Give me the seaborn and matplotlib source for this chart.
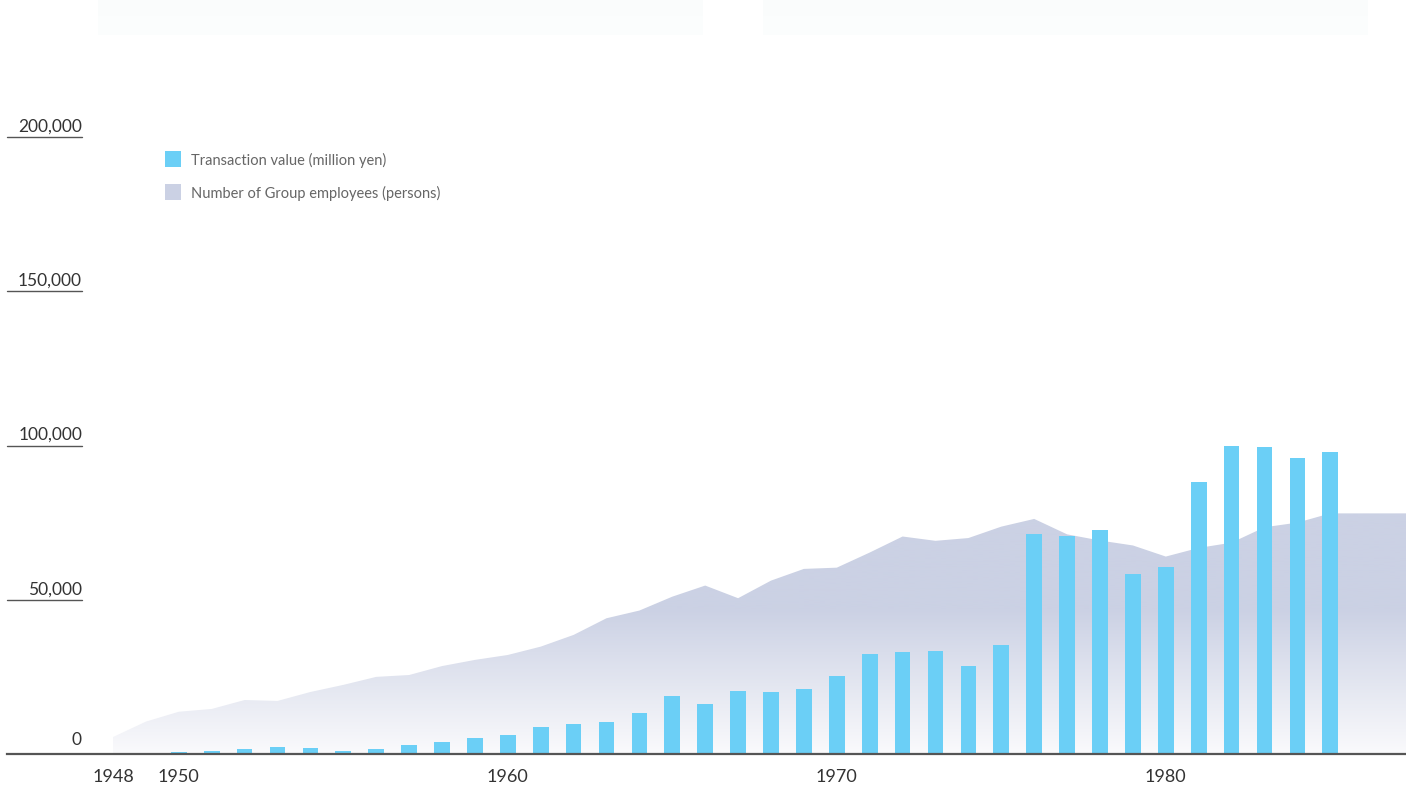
import numpy as np
import matplotlib
matplotlib.use("Agg")
import matplotlib.pyplot as plt
import matplotlib.transforms as mtransforms
from matplotlib.colors import LinearSegmentedColormap
from matplotlib.patches import Rectangle
import seaborn as sns

# data
years = list(range(1948, 1986))
transaction = [200, 200, 500, 1000, 1600, 2300, 2000, 1000, 1600, 2900,
               3900, 5200, 6200, 8800, 9700, 10400, 13300, 18800, 16200, 20400,
               20100, 21100, 25300, 32400, 33100, 33400, 28500, 35300, 71300, 70700,
               72600, 58400, 60600, 88200, 99900, 99600, 96000, 97900]
emp_years = list(range(1948, 1989))
employees = [5500, 10500, 13700, 14600, 17500, 17200, 20100, 22400, 25000, 25600,
             28500, 30500, 32100, 34800, 38600, 44000, 46500, 51000, 54600, 50500,
             56200, 60000, 60400, 65300, 70500, 69100, 70000, 73700, 76200, 71200,
             69200, 67600, 64000, 66800, 68500, 73500, 75000, 78000, 78000, 78000, 78000]
ytick_values = [0, 50000, 100000, 150000, 200000]
xtick_years = [1948, 1950, 1960, 1970, 1980]
legend_labels = ["Transaction value (million yen)", "Number of Group employees (persons)"]

BAR_COLOR = "#6BCFF6"
AREA_COLOR = "#CBD1E4"

sns.set_style("white")
plt.rcParams["font.family"] = ["Lato", "DejaVu Sans"]

W, H = 1406, 787
fig = plt.figure(figsize=(W / 100, H / 100), dpi=100)
ax = fig.add_axes([0, 33 / H, 1, 754 / H])
ax.patch.set_alpha(0)

px_year = 32.9
x0 = 1948 - 113 / px_year
x1 = x0 + W / px_year
val_px = 200000 / 617.0
ytop = 754 * val_px

# employees area with vertical gradient
poly = ax.fill_between(emp_years, employees, 0, color="none", lw=0)
cmap = LinearSegmentedColormap.from_list("fade", ["#FAFAFC", AREA_COLOR])
grad = np.clip(np.linspace(0, 1, 256).reshape(-1, 1) * 80000 / 47000, 0, 1)
im = ax.imshow(grad, extent=[1948, 1989, 0, 80000], origin="lower",
               aspect="auto", cmap=cmap, vmin=0, vmax=1, zorder=1)
im.set_clip_path(poly.get_paths()[0], transform=ax.transData)

# transaction bars
sns.barplot(x=years, y=transaction, native_scale=True, width=0.48,
            color=BAR_COLOR, saturation=1, errorbar=None, ax=ax, zorder=3,
            linewidth=0, edgecolor="none")

ax.set_xlim(x0, x1)
ax.set_ylim(0, ytop)
ax.set_xlabel("")
ax.set_ylabel("")

for s in ["top", "right", "left"]:
    ax.spines[s].set_visible(False)
ax.spines["bottom"].set_bounds(x0 + 7 / px_year, x1)
ax.spines["bottom"].set_color("#555555")
ax.spines["bottom"].set_linewidth(1.6)
ax.spines["bottom"].set_zorder(5)

ax.set_yticks([])
ax.set_xticks(xtick_years)
ax.set_xticklabels([str(y) for y in xtick_years])
ax.tick_params(axis="x", length=0, pad=11, labelsize=13, labelcolor="#333333")

# y labels with short underlines
trans = mtransforms.blended_transform_factory(ax.transAxes, ax.transData)
for v in ytick_values:
    if v == 0:
        ax.text(82 / W, 9 * val_px, "0", transform=trans, ha="right",
                va="baseline", fontsize=12.5, color="#333333")
        continue
    ax.plot([7 / W, 82 / W], [v, v], transform=trans, color="#555555",
            lw=1.0, clip_on=False)
    ax.text(82 / W, v + 5.5 * val_px, f"{v:,}", transform=trans, ha="right",
            va="baseline", fontsize=12.5, color="#333333")

# legend
for i, (lab, col) in enumerate(zip(legend_labels, [BAR_COLOR, AREA_COLOR])):
    yc = 159 + 33 * i
    fig.add_artist(Rectangle((165 / W, 1 - (yc + 8) / H), 16 / W, 16 / H,
                             transform=fig.transFigure, color=col, lw=0))
    fig.text(191 / W, 1 - (yc + 1) / H, lab, va="center", ha="left",
             fontsize=10.5, color="#666666")

# faint panels at the top
for left in [98, 763]:
    fig.add_artist(Rectangle((left / W, 1 - 35 / H), 605 / W, 35 / H,
                             transform=fig.transFigure, color="#FBFDFD",
                             lw=0, zorder=-1))
    fig.add_artist(Rectangle((left / W, 1 - 16 / H), 605 / W, 16 / H,
                             transform=fig.transFigure, color="#FAFCFC",
                             lw=0, zorder=-1))

fig.savefig("out.png", dpi=100)
